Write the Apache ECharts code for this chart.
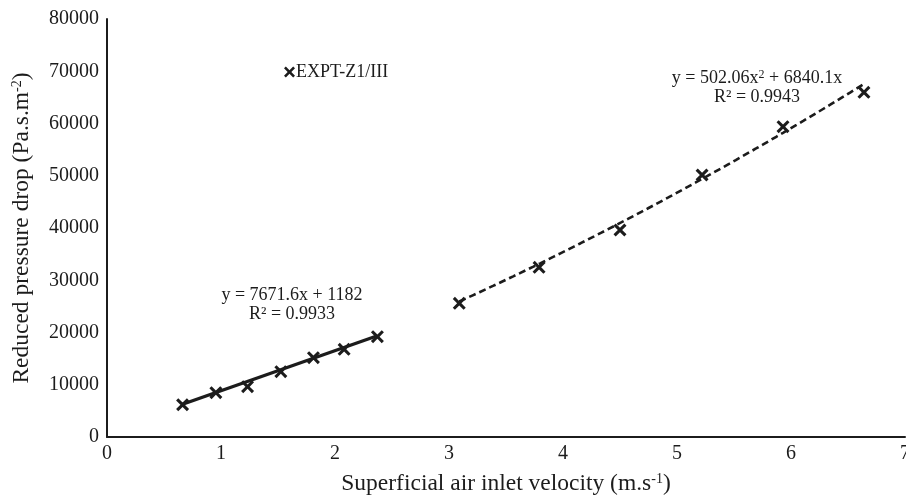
<!DOCTYPE html>
<html>
<head>
<meta charset="utf-8">
<script src="https://cdn.jsdelivr.net/npm/echarts@6/dist/echarts.min.js"></script>
<style>
  html, body { margin: 0; padding: 0; background: #fff; }
  #chart { width: 906px; height: 495px; }
</style>
</head>
<body>
<div id="chart"></div>
<script>
// Measured points: low-velocity regime
var lowVelocity = [0.663, 0.955, 1.233, 1.525, 1.811, 2.080, 2.372];
var lowDrop = [6180, 8480, 9630, 12500, 15180, 16780, 19200];
// Measured points: high-velocity regime
var highVelocity = [3.09, 3.79, 4.50, 5.22, 5.93, 6.64];
var highDrop = [25590, 32480, 39620, 50140, 59390, 65970];
// Trendline coefficients as reported on the chart
var linearFit = [7671.6, 1182];        // y = a*x + b
var quadFit = [502.06, 6840.1];        // y = a*x^2 + b*x
var xTicks = [0, 1, 2, 3, 4, 5, 6, 7];
var yTicks = [0, 10000, 20000, 30000, 40000, 50000, 60000, 70000, 80000];

var INK = '#1c1c1c';
var SERIF = '"Liberation Serif", "DejaVu Serif", serif';
var CROSS = 'path://M0,2L2,0L6,4L10,0L12,2L8,6L12,10L10,12L6,8L2,12L0,10L4,6Z';

function zip(xs, ys) { return xs.map(function (x, i) { return [x, ys[i]]; }); }

// Linear trendline across the low-velocity points
var xl0 = lowVelocity[0], xl1 = lowVelocity[lowVelocity.length - 1];
var linearLine = [xl0, xl1].map(function (x) { return [x, linearFit[0] * x + linearFit[1]]; });

// Quadratic trendline across the high-velocity points
var xq0 = highVelocity[0], xq1 = highVelocity[highVelocity.length - 1];
var quadLine = [];
for (var i = 0; i <= 60; i++) {
  var x = xq0 + (xq1 - xq0) * i / 60;
  quadLine.push([x, quadFit[0] * x * x + quadFit[1] * x]);
}

var titleRich = {
  a: { fontFamily: SERIF, fontSize: 23.5, color: INK },
  s: { fontFamily: SERIF, fontSize: 14, color: INK, verticalAlign: 'bottom', padding: [0, 0, 10, 0] }
};

function eqText(x, y, rich, text) {
  return {
    type: 'text', x: x, y: y, z: 10,
    style: {
      text: text, rich: rich,
      font: '18px ' + SERIF, fill: INK,
      textAlign: 'center', textVerticalAlign: 'middle'
    }
  };
}
var eqRich = {
  a: { fontFamily: SERIF, fontSize: 18, color: INK },
  s: { fontFamily: SERIF, fontSize: 12, color: INK, verticalAlign: 'bottom', padding: [0, 0, 7, 0] }
};

var chart = echarts.init(document.getElementById('chart'), null, { renderer: 'canvas' });
chart.setOption({
  animation: false,
  backgroundColor: '#ffffff',
  textStyle: { fontFamily: SERIF, color: INK },
  grid: { left: 107, right: 1, top: 19, bottom: 58, containLabel: false, outerBoundsMode: 'none' },
  legend: {
    left: 279, top: 58,
    itemWidth: 11, itemHeight: 11, itemGap: 4,
    data: [{ name: 'EXPT-Z1/III', icon: CROSS }],
    textStyle: { fontFamily: SERIF, fontSize: 18, color: INK, padding: [0, 0, 0, -4] }
  },
  xAxis: {
    type: 'value', min: xTicks[0], max: xTicks[xTicks.length - 1], interval: 1,
    name: '{a|Superficial air inlet velocity (m.s}{s|-1}{a|)}',
    nameLocation: 'middle', nameGap: 35,
    nameTextStyle: { rich: titleRich },
    axisLine: { lineStyle: { color: INK, width: 2 } },
    axisTick: { show: false },
    splitLine: { show: false },
    axisLabel: { fontFamily: SERIF, fontSize: 20, color: INK, margin: 7, formatter: function (v) { return String(v); } }
  },
  yAxis: {
    type: 'value', min: yTicks[0], max: yTicks[yTicks.length - 1], interval: 10000,
    name: '{a|Reduced pressure drop (Pa.s.m}{s|-2}{a|)}',
    nameLocation: 'middle', nameGap: 73, nameRotate: 90,
    nameTextStyle: { rich: titleRich },
    axisLine: { show: true, lineStyle: { color: INK, width: 2 } },
    axisTick: { show: false },
    splitLine: { show: false },
    axisLabel: { fontFamily: SERIF, fontSize: 20, color: INK, margin: 8, formatter: function (v) { return String(v); } }
  },
  series: [
    {
      name: 'linear fit', type: 'line', data: linearLine, symbol: 'none',
      lineStyle: { color: INK, width: 3.4 }, silent: true, z: 2
    },
    {
      name: 'quadratic fit', type: 'line', data: quadLine, symbol: 'none', smooth: false,
      lineStyle: { color: INK, width: 2.6, type: [7, 4] }, silent: true, z: 2
    },
    {
      name: 'EXPT-Z1/III', type: 'scatter', data: zip(lowVelocity, lowDrop).concat(zip(highVelocity, highDrop)),
      symbol: CROSS, symbolSize: 13,
      itemStyle: { color: INK, opacity: 1 }, z: 3
    }
  ],
  graphic: [
    eqText(292, 295, eqRich, '{a|y = 7671.6x + 1182}'),
    eqText(292, 314, eqRich, '{a|R² = 0.9933}'),
    eqText(757, 78, eqRich, '{a|y = 502.06x}{s|2}{a| + 6840.1x}'),
    eqText(757, 97, eqRich, '{a|R² = 0.9943}')
  ]
});
</script>
</body>
</html>
